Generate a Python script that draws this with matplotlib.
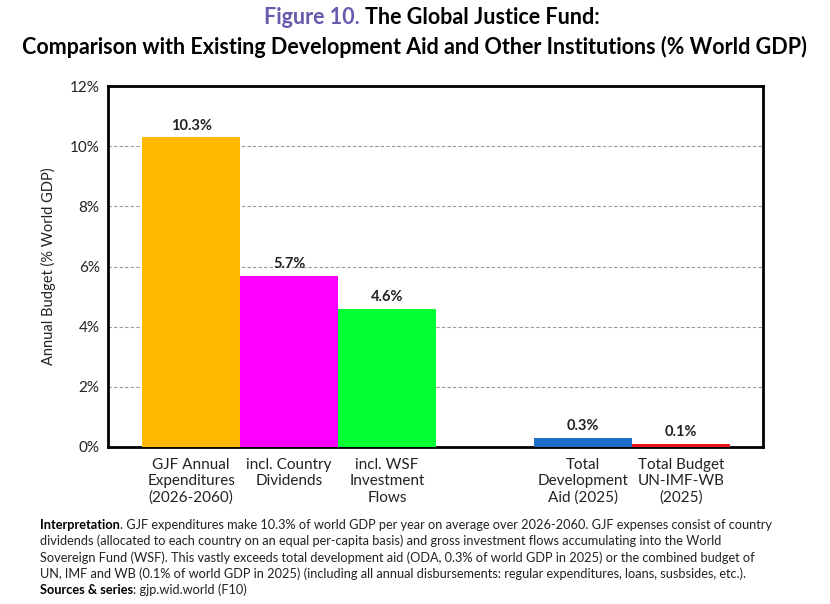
import matplotlib
matplotlib.use("Agg")
import matplotlib.pyplot as plt

plt.rcParams['font.family'] = ['Lato', 'DejaVu Sans']

# data
categories = ["GJF Annual\nExpenditures\n(2026-2060)", "incl. Country\nDividends",
              "incl. WSF\nInvestment\nFlows", "Total\nDevelopment\nAid (2025)",
              "Total Budget\nUN-IMF-WB\n(2025)"]
values = [10.3, 5.7, 4.6, 0.3, 0.1]
positions = [0, 1, 2, 4, 5]
colors = ["#FFB900", "#FF00FF", "#00FF33", "#1B6FC8", "#E8161B"]
yticks = [0, 2, 4, 6, 8, 10, 12]

fig = plt.figure(figsize=(8.3, 6.04), dpi=100)
ax = fig.add_axes([108/830, 1 - 447/604, (763-108)/830, (447-86)/604])

bars = ax.bar(positions, values, width=1.0, color=colors, zorder=3)
for p, v in zip(positions, values):
    ax.text(p, v + 0.15, f"{v:.1f}%", ha="center", va="bottom",
            fontsize=10.5, fontweight="bold", color="#222222", zorder=4)

ax.set_xlim(-0.85, 5.84)
ax.set_ylim(0, 12)
ax.set_yticks(yticks)
ax.set_yticklabels([f"{t}%" for t in yticks], fontsize=11, color="#222222")
ax.set_xticks(positions)
ax.set_xticklabels(categories, fontsize=11, color="#222222", linespacing=1.2)
ax.tick_params(axis="x", length=0, pad=8)
ax.tick_params(axis="y", length=0, pad=6)
for t in yticks[1:-1]:
    ax.axhline(t, color="#999999", lw=0.8, ls=(0, (3, 2)), zorder=1)
for s in ax.spines.values():
    s.set_linewidth(2.0)
    s.set_color("black")
ax.set_ylabel("Annual Budget (% World GDP)", fontsize=10.5, color="#222222", labelpad=10)

# title in two colours on first line
fig.canvas.draw()
r = fig.canvas.get_renderer()
t1 = fig.text(0, 1 - 18/604, "Figure 10. ", fontsize=15.5, fontweight="bold",
              color="#6A5AAE", va="center", ha="left")
t2 = fig.text(0, 1 - 18/604, "The Global Justice Fund:", fontsize=15.5, fontweight="bold",
              color="black", va="center", ha="left")
w1 = t1.get_window_extent(r).width
w2 = t2.get_window_extent(r).width
x0 = (432 - (w1 + w2) / 2) / 830
t1.set_x(x0)
t2.set_x(x0 + w1 / 830)
fig.text(414/830, 1 - 47/604,
         "Comparison with Existing Development Aid and Other Institutions (% World GDP)",
         fontsize=15.5, fontweight="bold", color="black", ha="center", va="center")

notes = [
    ("Interpretation", ". GJF expenditures make 10.3% of world GDP per year on average over 2026-2060. GJF expenses consist of country"),
    ("", "dividends (allocated to each country on an equal per-capita basis) and gross investment flows accumulating into the World"),
    ("", "Sovereign Fund (WSF). This vastly exceeds total development aid (ODA, 0.3% of world GDP in 2025) or the combined budget of"),
    ("", "UN, IMF and WB (0.1% of world GDP in 2025) (including all annual disbursements: regular expenditures, loans, susbsides, etc.)."),
    ("Sources & series", ": gjp.wid.world (F10)"),
]
y = 525
for bold, rest in notes:
    x = 40
    if bold:
        tb = fig.text(x/830, 1 - y/604, bold, fontsize=9.2, fontweight="bold",
                      color="black", va="center", ha="left")
        x += tb.get_window_extent(r).width
    fig.text(x/830, 1 - y/604, rest, fontsize=9.2, color="#222222", va="center", ha="left")
    y += 16.2

fig.savefig("out.png", dpi=100)
